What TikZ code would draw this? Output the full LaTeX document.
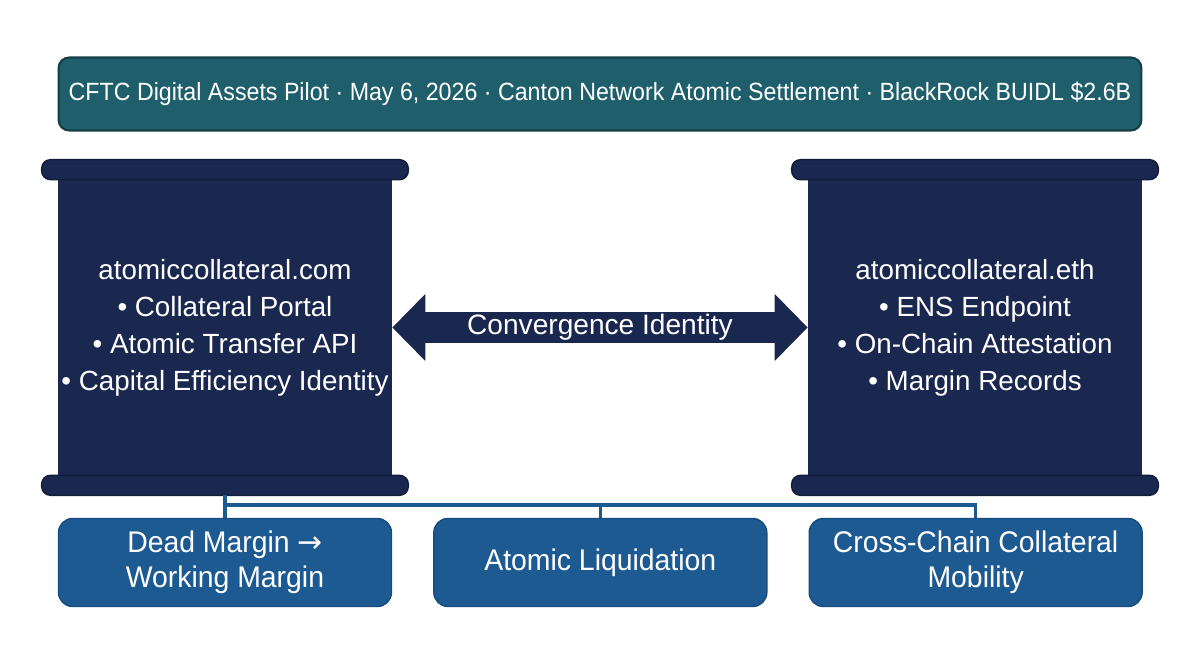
\documentclass[tikz,border=0pt]{standalone}
\usepackage{fontspec}
\setmainfont{Liberation Sans}
\newfontfamily\bannerfont[FakeStretch=0.93]{Liberation Sans}
\newfontfamily\leaffont[FakeStretch=0.95]{Liberation Sans}
\newfontfamily\symfont{DejaVu Sans}
\usetikzlibrary{arrows.meta, positioning, calc}
\definecolor{navyblue}{HTML}{1A2850}
\definecolor{navyedge}{HTML}{111C38}
\definecolor{tealband}{HTML}{1F5E6B}
\definecolor{tealedge}{HTML}{143F48}
\definecolor{midblue}{HTML}{1D5A92}
\definecolor{midedge}{HTML}{174B7C}

\begin{document}
\begin{tikzpicture}[
  x=0.02cm, y=0.02cm,
  banner/.style={
    draw=tealedge, line width=1.2pt, fill=tealband, rounded corners=6pt,
    minimum width=21.66cm, minimum height=1.46cm, text=white,
    font=\bannerfont\fontsize{14.2}{16}\selectfont
  },
  panel/.style={
    fill=navyblue, minimum width=6.68cm, minimum height=6.7cm, inner xsep=0pt,
    text=white, align=center, font=\fontsize{15.8}{21}\selectfont
  },
  panelcap/.style={fill=navyblue, draw=navyedge, line width=0.8pt, rounded corners=5pt},
  leaf/.style={
    fill=midblue, draw=midedge, line width=0.8pt, rounded corners=8pt,
    minimum width=6.66cm, minimum height=1.76cm, text=white, align=center,
    font=\leaffont\fontsize{17}{20}\selectfont
  },
  arr/.style={
    navyblue, line width=0.62cm,
    {Triangle[length=0.66cm,width=1.3cm]}-{Triangle[length=0.66cm,width=1.3cm]}
  },
  link/.style={midblue, line width=1.8pt}
]
  \useasboundingbox (0,0) rectangle (1201,655);
  \node[banner] (pilot) at (600,561) {CFTC Digital Assets Pilot · May 6, 2026 · Canton Network Atomic Settlement · BlackRock BUIDL \$2.6B};

  \node[panel] (com) at (225,327.5) {atomiccollateral.com\\• Collateral Portal\\• Atomic Transfer API\\• Capital Efficiency Identity};
  \node[panel] (eth) at (975,327.5) {atomiccollateral.eth\\• ENS Endpoint\\• On-Chain Attestation\\• Margin Records};
  \foreach \p in {com,eth} {
    \path[panelcap] ($(\p.north west)+(-16,0)$) rectangle ($(\p.north east)+(16,-20)$);
    \path[panelcap] ($(\p.south west)+(-16,20)$) rectangle ($(\p.south east)+(16,0)$);
  }

  \draw[arr] (com) -- (eth) node[midway, text=white, font=\fontsize{16}{18}\selectfont] {Convergence Identity};

  \node[leaf] (dead) at (225,92.5) {Dead Margin {\symfont →}\\Working Margin};
  \node[leaf, right=0.82cm of dead] (liq) {Atomic Liquidation};
  \node[leaf, right=0.82cm of liq] (cross) {Cross-Chain Collateral\\Mobility};

  \coordinate (bus) at (225,150);
  \draw[link] (com.south) -- (dead.north);
  \draw[link] (bus) -| (cross.north);
  \draw[link] (liq.north |- bus) -- (liq.north);
\end{tikzpicture}
\end{document}
